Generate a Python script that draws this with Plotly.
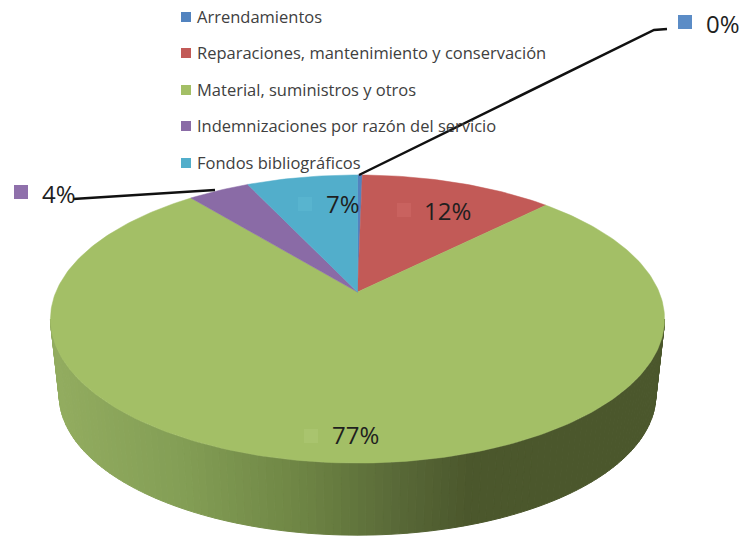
import numpy as np
from plotly import graph_objects as go

categories = ['Arrendamientos', 'Reparaciones, mantenimiento y conservación',
              'Material, suministros y otros', 'Indemnizaciones por razón del servicio',
              'Fondos bibliográficos']
values = [0.3, 12.2, 76.6, 3.9, 7.0]
colors = ['#5283bf', '#c25a57', '#a3bf66', '#8a6ba6', '#52aecb']

# pie geometry in screen pixels, tilted disc with perspective
CX, CY = 357.5, 292
A, B, K = 301.6, 139, 0.1875
CY_LOW, A_LOW, B_LOW = 369, 293, 135
FONT = 'Open Sans'


def rim(theta, cy=CY, a=A, b=B):
    u, v = np.sin(theta), np.cos(theta)
    return CX + a * u / (1 + K * v), cy - b * v / (1 + K * v)


def side_color(x):
    stops_x = [55, 180, 300, 400, 470]
    r = np.interp(x, stops_x, [146, 131, 110, 88, 75])
    g = np.interp(x, stops_x, [172, 158, 133, 104, 87])
    b = np.interp(x, stops_x, [95, 85, 68, 55, 44])
    return f'rgb({r:.0f},{g:.0f},{b:.0f})'


fig = go.Figure()

# side wall, vertical bands so the shading runs left to right
wall = np.linspace(np.arccos(-K), 2 * np.pi - np.arccos(-K), 121)
for t0, t1 in zip(wall[:-1], wall[1:]):
    x0, y0 = rim(t0)
    x1, y1 = rim(t1)
    x2, y2 = rim(t1, CY_LOW, A_LOW, B_LOW)
    x3, y3 = rim(t0, CY_LOW, A_LOW, B_LOW)
    c = side_color((x0 + x1) / 2)
    fig.add_trace(go.Scatter(x=[x0, x1, x2, x3, x0], y=[y0, y1, y2, y3, y0], mode='lines',
                             fill='toself', fillcolor=c, line=dict(color=c, width=1),
                             hoverinfo='skip'))

# top face, one sector per category
ends = np.cumsum(values) / sum(values) * 2 * np.pi
starts = np.concatenate([[0], ends[:-1]])
for name, start, end, color in zip(categories, starts, ends, colors):
    t = np.linspace(start, end, max(int((end - start) * 60), 3))
    x, y = rim(t)
    fig.add_trace(go.Scatter(x=np.concatenate([[CX], x, [CX]]), y=np.concatenate([[CY], y, [CY]]),
                             mode='lines', fill='toself', fillcolor=color,
                             line=dict(color=color, width=0.5), name=name, hoverinfo='name'))

annotations = []

# legend
legend_y = [17, 53, 90, 126, 163]
fig.add_trace(go.Scatter(x=[186] * 5, y=legend_y, mode='markers', hoverinfo='skip',
                         marker=dict(symbol='square', size=10, color=colors)))
for name, y in zip(categories, legend_y):
    annotations.append(dict(x=195, y=y - 1, text=name, xanchor='left', yanchor='middle', showarrow=False,
                            font=dict(family=FONT, size=16.5, color='#404040')))

# percent labels: [Arrendamientos, Reparaciones, Material, Indemnizaciones, Fondos]
label_marker_x = [685, 404, 311, 21, 305]
label_marker_y = [22, 210, 436, 192, 204]
label_marker_colors = ['#5b8cc6', '#c9625f', '#a9c46e', '#8f70ab', '#58b4cf']
label_x = [704, 422, 330, 40, 324]
label_y = [23, 210, 434, 193, 203]
fig.add_trace(go.Scatter(x=label_marker_x, y=label_marker_y, mode='markers', hoverinfo='skip',
                         marker=dict(symbol='square', size=14, color=label_marker_colors)))

# leader lines
fig.add_trace(go.Scatter(x=[359, 654, 667], y=[175, 30, 29], mode='lines', hoverinfo='skip',
                         line=dict(color='#111111', width=2.5)))
fig.add_trace(go.Scatter(x=[215, 82, 73], y=[190, 199, 199], mode='lines', hoverinfo='skip',
                         line=dict(color='#111111', width=2.5)))

for v, x, y in zip(values, label_x, label_y):
    annotations.append(dict(x=x, y=y, text=f'{round(v)}%', xanchor='left', yanchor='middle', showarrow=False,
                            font=dict(family=FONT, size=24, color='#1f1f1f')))

fig.update_layout(
    width=743, height=536, autosize=False,
    margin=dict(l=0, r=0, t=0, b=0),
    paper_bgcolor='white', plot_bgcolor='white',
    showlegend=False,
    annotations=annotations,
    xaxis=dict(range=[0, 743], visible=False, fixedrange=True),
    yaxis=dict(range=[536, 0], visible=False, fixedrange=True),
)
fig.write_html("out.html", config={'displayModeBar': False},
               post_script="document.body.style.margin='0';")
